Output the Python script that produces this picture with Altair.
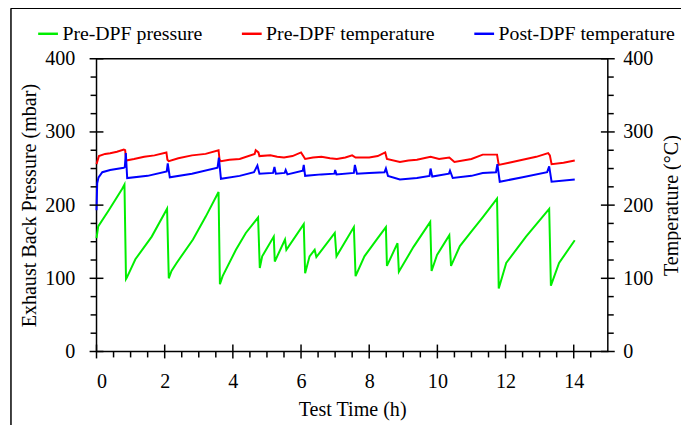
import altair as alt
import pandas as pd

# ---- data ----
series_names = ["Pre-DPF pressure", "Pre-DPF temperature", "Post-DPF temperature"]
series_colors = ["#00ee00", "#ff0000", "#0000ff"]

green_t = [0.00, 0.05, 0.36, 0.75, 0.82, 0.865, 0.89, 1.14, 1.62, 2.07, 2.12, 2.20, 2.35, 2.83, 3.20, 3.58,
           3.62, 3.70, 4.09, 4.38, 4.74, 4.79, 4.86, 5.20, 5.23, 5.53, 5.57, 6.08, 6.12, 6.25, 6.40, 6.45,
           6.99, 7.04, 7.55, 7.60, 7.86, 8.25, 8.49, 8.52, 8.83, 8.87, 9.30, 9.79, 9.83, 9.99, 10.35, 10.40,
           10.66, 11.00, 11.34, 11.75, 11.80, 12.02, 12.60, 13.28, 13.33, 13.57, 14.03]
green_v = [155, 171, 193, 222, 228, 99, 101, 126, 157, 195, 100, 110, 121, 153, 184, 218,
           92, 103, 139, 162, 183, 114, 130, 157, 123, 153, 139, 174, 107, 130, 139, 129,
           162, 130, 170, 103, 130, 155, 170, 117, 148, 109, 143, 177, 110, 132, 159, 117,
           144, 164, 184, 209, 86, 121, 157, 195, 90, 121, 152]

red_t = [0.00, 0.07, 0.25, 0.40, 0.60, 0.80, 0.84, 0.87, 1.10, 1.40, 1.70, 2.05, 2.08, 2.12, 2.40, 2.80,
         3.20, 3.58, 3.61, 3.65, 3.90, 4.20, 4.64, 4.67, 4.75, 4.78, 5.10, 5.30, 5.50, 5.75, 6.00, 6.08,
         6.12, 6.35, 6.60, 6.85, 7.05, 7.30, 7.50, 7.60, 8.00, 8.25, 8.47, 8.52, 8.90, 9.15, 9.40, 9.80,
         10.05, 10.35, 10.50, 11.00, 11.33, 11.75, 11.80, 12.10, 12.50, 12.90, 13.25, 13.30, 13.35, 13.70,
         14.03]
red_v = [256, 267, 270, 271, 273, 276, 275, 261, 263, 266, 268, 272, 262, 260, 264, 268,
         270, 275, 262, 260, 262, 263, 270, 275, 272, 267, 268, 266, 265, 267, 272, 266,
         263, 265, 266, 264, 263, 265, 268, 265, 265, 267, 272, 263, 259, 261, 262, 266,
         263, 265, 259, 263, 269, 269, 255, 258, 262, 266, 271, 268, 256, 258,
         261]

blue_t = [0.00, 0.02, 0.06, 0.17, 0.40, 0.80, 0.83, 0.86, 0.90, 1.50, 2.06, 2.09, 2.15, 2.80, 3.55, 3.59,
          3.65, 4.20, 4.62, 4.72, 4.78, 5.18, 5.22, 5.26, 5.52, 5.55, 5.60, 6.05, 6.08, 6.12, 6.60, 6.98,
          7.00, 7.04, 7.55, 7.58, 7.64, 8.00, 8.45, 8.49, 8.55, 8.90, 9.40, 9.77, 9.80, 9.85, 10.34, 10.37,
          10.45, 11.00, 11.33, 11.72, 11.76, 11.83, 12.50, 13.22, 13.28, 13.35, 14.03]
blue_v = [193, 230, 238, 245, 248, 251, 252, 271, 237, 240, 246, 257, 238, 243, 251, 265,
          236, 240, 245, 254, 243, 244, 252, 243, 244, 248, 242, 247, 255, 240, 242, 243,
          248, 242, 244, 255, 243, 244, 245, 250, 240, 235, 237, 240, 250, 239, 243, 247,
          237, 240, 244, 245, 256, 232, 238, 245, 253, 232, 235]

x_major = [0, 2, 4, 6, 8, 10, 12, 14]
x_minor = [0.5, 1, 1.5, 2.5, 3, 3.5, 4.5, 5, 5.5, 6.5, 7, 7.5, 8.5, 9, 9.5, 10.5, 11, 11.5, 12.5, 13, 13.5, 14.5]
y_major = [0, 100, 200, 300, 400]
y_minor = [25, 50, 75, 125, 150, 175, 225, 250, 275, 325, 350, 375]

# ---- layout ----
W, H = 517, 296
FONT = "Liberation Serif"
FS = 20.3
LFS = 20

rows = []
for name, ts, vs in zip(series_names, [green_t, red_t, blue_t], [green_v, red_v, blue_v]):
    for t, v in zip(ts, vs):
        rows.append({"series": name, "t": t, "v": v})
df = pd.DataFrame(rows)

xscale = alt.Scale(domain=[0, 15], nice=False, zero=False)
yscale = alt.Scale(domain=[0, 400], nice=False, zero=False)

axis_font = dict(labelFont=FONT, labelFontSize=FS, labelColor="black",
                 titleFont=FONT, titleFontSize=FS, titleColor="black", titleFontWeight="normal")

lines = alt.Chart(df).mark_line(strokeWidth=2).encode(
    x=alt.X("t:Q", scale=xscale,
            axis=alt.Axis(title="Test Time (h)", values=x_major, ticks=False, domain=False, grid=False,
                          labelPadding=20, titlePadding=8, **axis_font)),
    y=alt.Y("v:Q", scale=yscale,
            axis=alt.Axis(title="Exhaust Back Pressure (mbar)", orient="left", values=y_major, ticks=False,
                          domain=False, grid=False, labelPadding=22, titlePadding=5, **axis_font)),
    color=alt.Color("series:N", scale=alt.Scale(domain=series_names, range=series_colors),
                    legend=alt.Legend(orient="none", legendX=-60.5, legendY=-37, direction="horizontal",
                                      title=None, symbolType="stroke", symbolSize=400, symbolStrokeWidth=2.5,
                                      labelFont=FONT, labelFontSize=LFS, labelColor="black", labelOffset=3,
                                      columnPadding=34, padding=0, labelLimit=400)),
)

ymaj_df = pd.DataFrame({"v": y_major})
ymin_df = pd.DataFrame({"v": y_minor})
xmaj_df = pd.DataFrame({"t": x_major})
xmin_df = pd.DataFrame({"t": x_minor})

tick_style = dict(color="black", strokeWidth=1.5)

right_axis = alt.Chart(ymaj_df).mark_rule(**tick_style).encode(
    y=alt.Y("v:Q", scale=yscale,
            axis=alt.Axis(title="Temperature (°C)", orient="right", values=y_major, ticks=False,
                          domain=False, grid=False, labelPadding=15, titleAngle=270,
                          titleX=64, titleY=H / 2, titleAlign="center", titleBaseline="middle",
                          **axis_font)),
    x=alt.value(W - 7), x2=alt.value(W + 7),
)
left_major = alt.Chart(ymaj_df).mark_rule(**tick_style).encode(
    y=alt.Y("v:Q", scale=yscale, axis=None), x=alt.value(-7), x2=alt.value(7))
left_minor = alt.Chart(ymin_df).mark_rule(**tick_style).encode(
    y=alt.Y("v:Q", scale=yscale, axis=None), x=alt.value(-6), x2=alt.value(0))
right_minor = alt.Chart(ymin_df).mark_rule(**tick_style).encode(
    y=alt.Y("v:Q", scale=yscale, axis=None), x=alt.value(W), x2=alt.value(W + 6))
x_major_ticks = alt.Chart(xmaj_df).mark_rule(**tick_style).encode(
    x=alt.X("t:Q", scale=xscale, axis=None), y=alt.value(H - 7), y2=alt.value(H + 7))
x_minor_ticks = alt.Chart(xmin_df).mark_rule(**tick_style).encode(
    x=alt.X("t:Q", scale=xscale, axis=None), y=alt.value(H), y2=alt.value(H + 6))

frame_df = pd.DataFrame({"a": [0]})
frame_top = alt.Chart(frame_df).mark_rule(color="black", strokeWidth=1.5).encode(
    x=alt.value(-86.5), x2=alt.value(W + 80), y=alt.value(-51))
frame_left = alt.Chart(frame_df).mark_rule(color="black", strokeWidth=1.5).encode(
    x=alt.value(-86.5), y=alt.value(-51), y2=alt.value(H + 80))

chart = alt.layer(
    frame_top, frame_left, lines, right_axis, left_major, left_minor, right_minor, x_major_ticks, x_minor_ticks
).resolve_scale(y="independent").resolve_axis(x="independent").properties(
    width=W, height=H,
    padding={"left": 89.5, "top": 49, "right": 74, "bottom": 72},
    autosize=alt.AutoSizeParams(type="none"),
).configure(
    font=FONT
).configure_view(
    stroke="black", strokeWidth=1.5
).configure_axis(**axis_font).configure_legend(labelFont=FONT, labelFontSize=LFS)

chart.save("out.html", embed_options={"renderer": "svg", "actions": False})
